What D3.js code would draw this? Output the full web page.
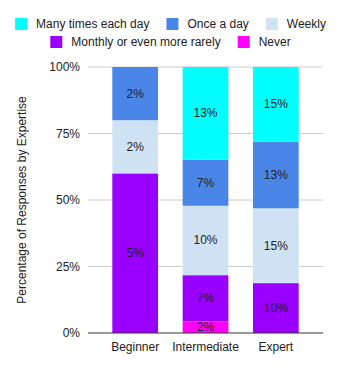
<!DOCTYPE html>
<html>
<head>
<meta charset="utf-8">
<script src="https://cdn.jsdelivr.net/npm/d3@7"></script>
<style>
  body { margin: 0; background: #fff; }
  text { font-family: "Liberation Sans", Arial, sans-serif; }
</style>
</head>
<body>
<div id="chart"></div>
<script>
// expertise groups along the x axis
var categories = ["Beginner", "Intermediate", "Expert"];
// response options, bottom of the stack first
var series = ["Never", "Monthly or even more rarely", "Weekly", "Once a day", "Many times each day"];
var colors = ["#ff00ff", "#9900ff", "#cfe2f3", "#4a86e8", "#00ffff"];
// response counts per group (same order as series)
var never     = [0, 1, 0];
var monthly   = [3, 4, 6];
var weekly    = [1, 6, 9];
var onceADay  = [1, 4, 8];
var manyTimes = [0, 8, 9];
var yTicks = [0, 0.25, 0.5, 0.75, 1];
// legend order as shown on top
var legendOrder = ["Many times each day", "Once a day", "Weekly", "Monthly or even more rarely", "Never"];

var counts = [never, monthly, weekly, onceADay, manyTimes];
var grandTotal = d3.sum(counts, function(s){ return d3.sum(s); });

var rows = categories.map(function(c, i){
	var r = {cat: c};
	series.forEach(function(s, j){ r[s] = counts[j][i]; });
	return r;
});

var width = 341, height = 371;
var plotLeft = 88, plotRight = 323, plotTop = 67, plotBottom = 333;

var svg = d3.select("#chart").append("svg")
	.attr("width", width)
	.attr("height", height);

var x = d3.scaleBand()
	.domain(categories)
	.range([100, 311])
	.paddingInner(0.35)
	.paddingOuter(0.175);

var y = d3.scaleLinear()
	.domain([0, 1])
	.range([plotBottom, plotTop]);

var stack = d3.stack().keys(series).offset(d3.stackOffsetExpand);
var layers = stack(rows);

// gridlines
svg.append("g").selectAll("line")
	.data(yTicks.filter(function(t){ return t > 0; }))
	.join("line")
	.attr("x1", plotLeft)
	.attr("x2", plotRight)
	.attr("y1", function(d){ return y(d); })
	.attr("y2", function(d){ return y(d); })
	.attr("stroke", "#cccccc")
	.attr("stroke-width", 1);

// y tick labels
var yAxis = svg.append("g")
	.attr("transform", "translate(" + plotLeft + ",0)")
	.call(d3.axisLeft(y).tickValues(yTicks).tickFormat(d3.format(".0%")).tickSize(0).tickPadding(8));
yAxis.select(".domain").remove();
yAxis.selectAll("text")
	.attr("font-size", "12px")
	.attr("fill", "#222")
	.style("font-family", "'Liberation Sans', Arial, sans-serif");

// bars
var layer = svg.append("g").selectAll("g")
	.data(layers)
	.join("g")
	.attr("fill", function(d, i){ return colors[i]; });

layer.selectAll("rect")
	.data(function(d){ return d.map(function(p){ p.key = d.key; return p; }); })
	.join("rect")
	.attr("x", function(d){ return x(d.data.cat); })
	.attr("width", x.bandwidth())
	.attr("y", function(d){ return y(d[1]); })
	.attr("height", function(d){ return y(d[0]) - y(d[1]); });

// segment labels (share of all responses)
layer.selectAll("text")
	.data(function(d){ return d.filter(function(p){ return p.data[d.key] > 0; }); })
	.join("text")
	.attr("x", function(d){ return x(d.data.cat) + x.bandwidth() / 2; })
	.attr("y", function(d){ return (y(d[0]) + y(d[1])) / 2 + 4; })
	.attr("text-anchor", "middle")
	.attr("font-size", "12px")
	.attr("fill", "#222")
	.text(function(d){ return Math.round(d.data[d.key] / grandTotal * 100) + "%"; });

// baseline
svg.append("line")
	.attr("x1", plotLeft)
	.attr("x2", plotRight)
	.attr("y1", plotBottom)
	.attr("y2", plotBottom)
	.attr("stroke", "#333")
	.attr("stroke-width", 1);

// x labels
var xAxis = svg.append("g")
	.attr("transform", "translate(0," + plotBottom + ")")
	.call(d3.axisBottom(x).tickSize(0).tickPadding(9));
xAxis.select(".domain").remove();
xAxis.selectAll("text")
	.attr("font-size", "12px")
	.attr("fill", "#222")
	.style("font-family", "'Liberation Sans', Arial, sans-serif");

// y title
svg.append("text")
	.attr("transform", "translate(26," + ((plotTop + plotBottom) / 2) + ") rotate(-90)")
	.attr("text-anchor", "middle")
	.attr("font-size", "12px")
	.attr("fill", "#222")
	.text("Percentage of Responses by Expertise");

// legend, two centered rows
var legendRows = [legendOrder.slice(0, 3), legendOrder.slice(3)];
legendRows.forEach(function(items, r){
	var g = svg.append("g");
	var cx = 0;
	items.forEach(function(name){
		var item = g.append("g").attr("transform", "translate(" + cx + ",0)");
		item.append("rect")
			.attr("x", 0).attr("y", -6)
			.attr("width", 12).attr("height", 12)
			.attr("fill", colors[series.indexOf(name)]);
		var t = item.append("text")
			.attr("x", 21).attr("y", 4)
			.attr("font-size", "12px")
			.attr("fill", "#222")
			.text(name);
		cx += 21 + t.node().getComputedTextLength() + 17;
	});
	var w = cx - 17;
	g.attr("transform", "translate(" + ((width - w) / 2) + "," + (24 + r * 18) + ")");
});
</script>
</body>
</html>
